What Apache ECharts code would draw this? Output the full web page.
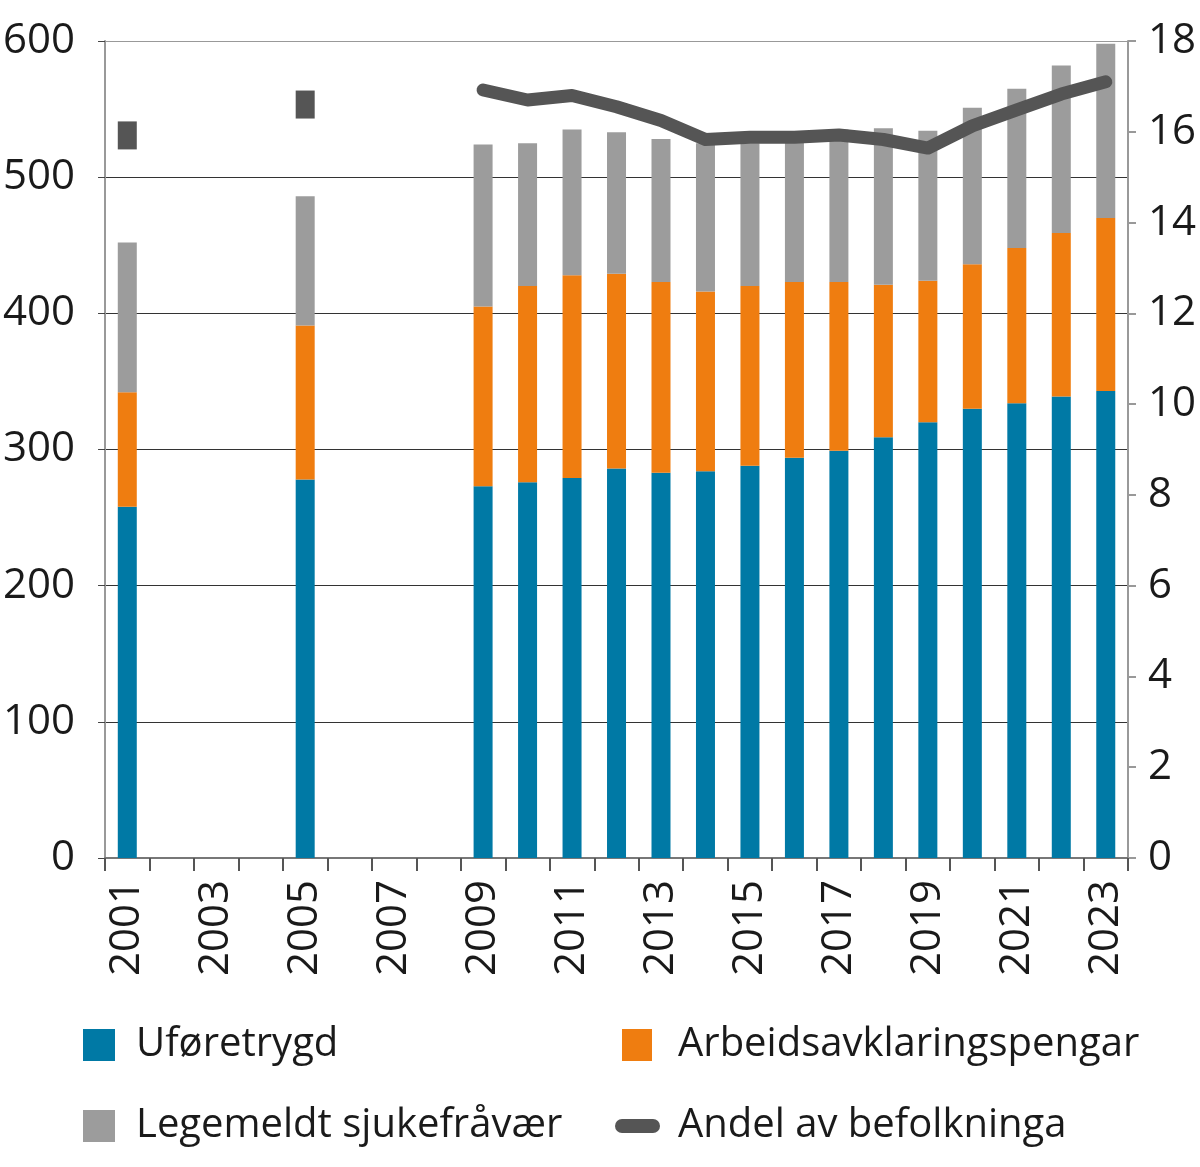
<!DOCTYPE html>
<html>
<head>
<meta charset="utf-8">
<script src="https://cdn.jsdelivr.net/npm/echarts@6/dist/echarts.min.js"></script>
<style>
html,body{margin:0;padding:0;background:#fff;}
#chart{width:1200px;height:1167px;}
</style>
</head>
<body>
<div id="chart"></div>
<script>
const years = ['2001','2002','2003','2004','2005','2006','2007','2008','2009','2010','2011','2012','2013','2014','2015','2016','2017','2018','2019','2020','2021','2022','2023'];
const uforetrygd = [258,null,null,null,278,null,null,null,273,276,279,286,283,284,288,294,299,309,320,330,334,339,343];
const arbeidsavklaring = [84,null,null,null,113,null,null,null,132,144,149,143,140,132,132,129,124,112,104,106,114,120,127];
const sjukefravaer = [110,null,null,null,95,null,null,null,119,105,107,104,105,109,105,104,112,115,110,115,117,123,128];
const andelLine = [null,null,null,null,null,null,null,null,16.92,16.7,16.8,16.55,16.25,15.83,15.88,15.88,15.93,15.83,15.64,16.13,16.48,16.83,17.1];
const andelSingle = [15.92,null,null,null,16.6,null,null,null,null,null,null,null,null,null,null,null,null,null,null,null,null,null,null];
const leftTicks = {min:0,max:600,interval:100};
const rightTicks = {min:0,max:18,interval:2};

const FONT = '"Open Sans", sans-serif';
const C_BLUE = '#0079a5', C_ORANGE = '#ef7d10', C_GRAY = '#9c9c9c', C_LINE = '#555555';
const legendText = {fontFamily: FONT, fontSize: 40, color: '#1a1a1a', lineHeight: 40};

const chart = echarts.init(document.getElementById('chart'), null, {renderer: 'canvas'});
chart.setOption({
  animation: false,
  backgroundColor: '#fff',
  grid: {left: 100, right: 72, top: 41, bottom: 309, containLabel: false},
  xAxis: {
    type: 'category',
    data: years,
    boundaryGap: true,
    axisLine: {show: true, lineStyle: {color: '#777', width: 2}},
    axisTick: {show: true, interval: 0, length: 13, lineStyle: {color: '#555', width: 2}},
    axisLabel: {interval: 1, rotate: 90, margin: 22, fontFamily: FONT, fontSize: 42, color: '#1a1a1a'},
    splitLine: {show: false}
  },
  yAxis: [
    {
      type: 'value', min: leftTicks.min, max: leftTicks.max, interval: leftTicks.interval,
      axisLine: {show: true, lineStyle: {color: '#999', width: 2}},
      axisTick: {show: true, length: 7, lineStyle: {color: '#444', width: 1}},
      axisLabel: {margin: 30, fontFamily: FONT, fontSize: 42, color: '#1a1a1a'},
      splitLine: {show: true, lineStyle: {color: ['#777','#333','#333','#333','#333','#333','#999'], width: 1.2}}
    },
    {
      type: 'value', min: rightTicks.min, max: rightTicks.max, interval: rightTicks.interval,
      position: 'right',
      axisLine: {show: true, lineStyle: {color: '#999', width: 2}},
      axisTick: {show: true, length: 8, lineStyle: {color: '#999', width: 2}},
      axisLabel: {margin: 20, fontFamily: FONT, fontSize: 42, color: '#1a1a1a'},
      splitLine: {show: false}
    }
  ],
  legend: [
    {left: 83, top: 1025, padding: 0, itemWidth: 32, itemHeight: 32, icon: 'rect',
     data: ['Uføretrygd'], textStyle: Object.assign({padding: [0,0,0,16]}, legendText)},
    {left: 622, top: 1025, padding: 0, itemWidth: 30, itemHeight: 32, icon: 'rect',
     data: ['Arbeidsavklaringspengar'], textStyle: Object.assign({padding: [0,0,0,21]}, legendText)},
    {left: 83, top: 1106, padding: 0, itemWidth: 32, itemHeight: 32, icon: 'rect',
     data: ['Legemeldt sjukefråvær'], textStyle: Object.assign({padding: [0,0,0,16]}, legendText)},
    {left: 615, top: 1106, padding: 0, itemWidth: 45, itemHeight: 14,
     icon: 'path://M7,0 L38,0 A7,7 0 0 1 38,14 L7,14 A7,7 0 0 1 7,0 Z',
     data: ['Andel av befolkninga'], textStyle: Object.assign({padding: [0,0,0,13]}, legendText)}
  ],
  series: [
    {name: 'Uføretrygd', type: 'bar', stack: 's', barWidth: 19, data: uforetrygd,
     itemStyle: {color: C_BLUE}, emphasis: {disabled: true}},
    {name: 'Arbeidsavklaringspengar', type: 'bar', stack: 's', barWidth: 19, data: arbeidsavklaring,
     itemStyle: {color: C_ORANGE}, emphasis: {disabled: true}},
    {name: 'Legemeldt sjukefråvær', type: 'bar', stack: 's', barWidth: 19, data: sjukefravaer,
     itemStyle: {color: C_GRAY}, emphasis: {disabled: true}},
    {name: 'Andel av befolkninga', type: 'line', yAxisIndex: 1, data: andelLine,
     showSymbol: false, symbol: 'none', connectNulls: false,
     lineStyle: {color: C_LINE, width: 13, cap: 'round', join: 'round'},
     itemStyle: {color: C_LINE}, emphasis: {disabled: true}, z: 5},
    {name: 'Andel (enkeltår)', type: 'scatter', yAxisIndex: 1, data: andelSingle,
     symbol: 'rect', symbolSize: [19, 28], itemStyle: {color: C_LINE, opacity: 1}, emphasis: {disabled: true}, z: 5}
  ]
});
</script>
</body>
</html>
